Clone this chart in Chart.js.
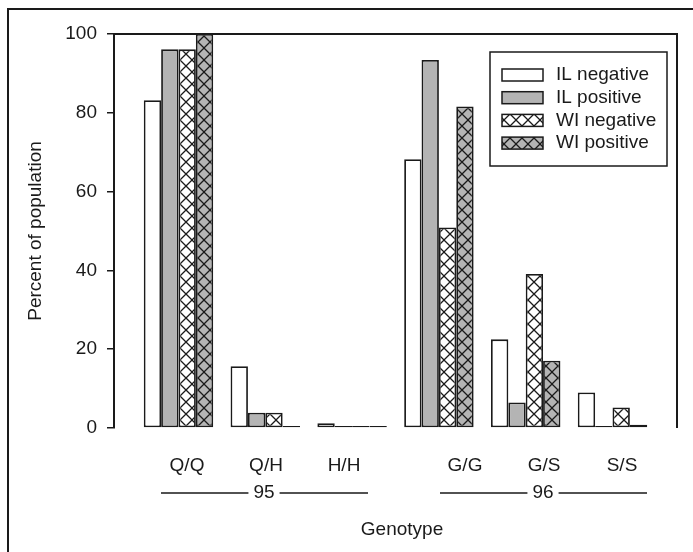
<!DOCTYPE html>
<html>
<head>
<meta charset="utf-8">
<script src="https://cdn.jsdelivr.net/npm/chart.js@4.4.1/dist/chart.umd.min.js"></script>
<style>
  html, body { margin: 0; padding: 0; background: #fff; }
</style>
</head>
<body>
<canvas id="chart" width="693" height="552"></canvas>
<script>
// values (percent of population)
const genotypes = ['Q/Q', 'Q/H', 'H/H', 'G/G', 'G/S', 'S/S'];
const seriesNames = ['IL negative', 'IL positive', 'WI negative', 'WI positive'];
const ilNegative = [83.2, 15.7, 1.2, 68.2, 22.5, 9.0];
const ilPositive = [96.1, 3.9, 0, 93.4, 6.5, 0];
const wiNegative = [96.1, 3.9, 0, 50.9, 39.1, 5.2];
const wiPositive = [100, 0, 0, 81.6, 17.1, 0.8];
const loci = ['95', '96'];
const yTicks = [0, 20, 40, 60, 80, 100];

const ink = '#1a1a1a';
const gray = '#b4b4b4';
const fontFamily = '"Liberation Sans", Arial, sans-serif';

// label layout (pixels) - placed by hand in the original figure
const genoLabelX = [187, 266, 344, 465, 544, 622];
const locusSpan = [[161, 368, 264], [440, 647, 543]];

function hatch(bg) {
    const P = 12;
    const tile = document.createElement('canvas');
    tile.width = P; tile.height = P;
    const t = tile.getContext('2d');
    t.fillStyle = bg;
    t.fillRect(0, 0, P, P);
    t.strokeStyle = ink;
    t.lineWidth = 1.3;
    t.beginPath();
    t.moveTo(-1, -1); t.lineTo(P + 1, P + 1);
    t.moveTo(P + 1, -1); t.lineTo(-1, P + 1);
    t.stroke();
    return t.createPattern(tile, 'repeat');
}

const fills = ['#ffffff', gray, hatch('#ffffff'), hatch(gray)];
const values = [ilNegative, ilPositive, wiNegative, wiPositive];

const datasets = seriesNames.map((name, s) => ({
    label: name,
    data: values[s].map((v, i) => ({ x: i, y: v })),
    backgroundColor: fills[s],
    borderColor: ink,
    borderWidth: 1.8,
    borderSkipped: false,
    minBarLength: 2,
    categoryPercentage: 0.8,
    barPercentage: 1.0
}));

const framePlugin = {
    id: 'frame',
    beforeDraw(chart) {
        const ctx = chart.ctx;
        ctx.save();
        ctx.strokeStyle = ink;
        ctx.lineWidth = 2;
        ctx.strokeRect(8, 9, 760, 640);
        ctx.restore();
    },
    afterDraw(chart) {
        const { ctx, chartArea: a } = chart;
        ctx.save();
        ctx.strokeStyle = ink;
        ctx.lineWidth = 2;
        ctx.beginPath();
        ctx.moveTo(a.left, a.top);
        ctx.lineTo(a.right, a.top);
        ctx.lineTo(a.right, a.bottom);
        ctx.stroke();

        ctx.fillStyle = ink;
        ctx.font = '19px ' + fontFamily;
        ctx.textAlign = 'center';
        ctx.textBaseline = 'middle';
        genotypes.forEach((g, i) => ctx.fillText(g, genoLabelX[i], 466));

        // locus bars with number in the middle
        ctx.lineWidth = 1.5;
        loci.forEach((l, i) => {
            const [x0, x1, xm] = locusSpan[i];
            const w = ctx.measureText(l).width;
            const y = 493;
            ctx.beginPath();
            ctx.moveTo(x0, y); ctx.lineTo(xm - w / 2 - 5, y);
            ctx.moveTo(xm + w / 2 + 5, y); ctx.lineTo(x1, y);
            ctx.stroke();
            ctx.fillText(l, xm, y);
        });

        ctx.fillText('Genotype', 402, 530);

        // legend
        ctx.lineWidth = 1.5;
        ctx.strokeRect(490, 52, 177, 114);
        chart.data.datasets.forEach((ds, i) => {
            const cy = 75 + i * 22.7;
            ctx.fillStyle = ds.backgroundColor;
            ctx.fillRect(502, cy - 6, 41, 12);
            ctx.strokeRect(502, cy - 6, 41, 12);
            ctx.fillStyle = ink;
            ctx.textAlign = 'left';
            ctx.fillText(ds.label, 556, cy);
        });
        ctx.restore();
    }
};

new Chart(document.getElementById('chart'), {
    type: 'bar',
    data: { datasets: datasets },
    options: {
        responsive: false,
        animation: false,
        layout: { padding: { left: 0, top: 34, right: 16, bottom: 124 } },
        plugins: { legend: { display: false }, tooltip: { enabled: false } },
        scales: {
            x: {
                type: 'linear',
                display: false,
                offset: false,
                min: -0.743,
                max: 5.743,
                afterBuildTicks(scale) { scale.ticks = genotypes.map((g, i) => ({ value: i })); }
            },
            y: {
                min: 0,
                max: 100,
                afterFit(scale) { scale.width = 114; },
                afterBuildTicks(scale) { scale.ticks = yTicks.map(v => ({ value: v })); },
                border: { display: true, color: ink, width: 2 },
                grid: {
                    display: true,
                    drawOnChartArea: false,
                    drawTicks: true,
                    tickLength: 7,
                    color: ink,
                    lineWidth: 1.5
                },
                ticks: {
                    padding: 10,
                    color: ink,
                    font: { size: 19, family: fontFamily }
                },
                title: {
                    display: true,
                    text: 'Percent of population',
                    color: ink,
                    padding: { top: 24, bottom: 0 },
                    font: { size: 19, family: fontFamily }
                }
            }
        }
    },
    plugins: [framePlugin]
});
</script>
</body>
</html>
